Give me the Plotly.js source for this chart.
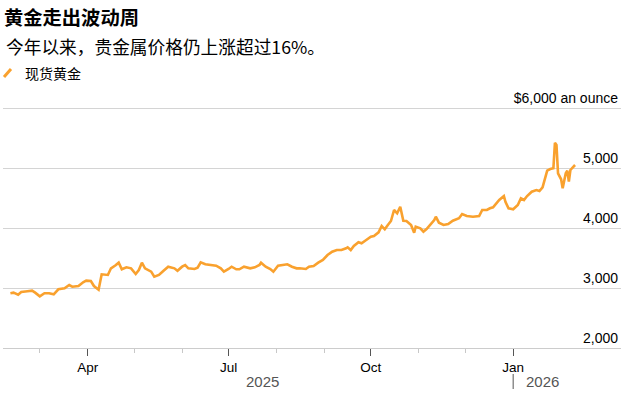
<!DOCTYPE html>
<html>
<head>
<meta charset="utf-8">
<script src="https://cdn.plot.ly/plotly-3.0.1.min.js"></script>
<style>
html,body{margin:0;padding:0;background:#fff;}
#chart{width:634px;height:398px;}
</style>
</head>
<body>
<div id="chart"></div>
<script>
var dates = [
"2025-02-10","2025-02-12","2025-02-15","2025-02-17","2025-02-21","2025-02-24","2025-02-26","2025-03-01",
"2025-03-04","2025-03-07","2025-03-10","2025-03-13","2025-03-17","2025-03-20","2025-03-22","2025-03-26","2025-03-29","2025-03-31",
"2025-04-03","2025-04-05","2025-04-08","2025-04-10","2025-04-14","2025-04-16","2025-04-19","2025-04-21","2025-04-23","2025-04-26","2025-04-29",
"2025-05-02","2025-05-04","2025-05-06","2025-05-08","2025-05-12","2025-05-14","2025-05-17","2025-05-20","2025-05-23","2025-05-27","2025-05-29",
"2025-06-01","2025-06-03","2025-06-05","2025-06-09","2025-06-11","2025-06-13","2025-06-16","2025-06-19","2025-06-23","2025-06-26","2025-06-28",
"2025-07-01","2025-07-03","2025-07-06","2025-07-08","2025-07-11","2025-07-15","2025-07-18","2025-07-21","2025-07-22","2025-07-25","2025-07-28","2025-07-30",
"2025-08-02","2025-08-06","2025-08-08","2025-08-11","2025-08-14","2025-08-16","2025-08-20","2025-08-22","2025-08-25","2025-08-28","2025-08-31",
"2025-09-03","2025-09-06","2025-09-09","2025-09-12","2025-09-15","2025-09-16","2025-09-18","2025-09-20","2025-09-23","2025-09-25","2025-09-28",
"2025-10-01","2025-10-03","2025-10-06","2025-10-08","2025-10-10","2025-10-12","2025-10-14","2025-10-16","2025-10-18","2025-10-20","2025-10-22","2025-10-24","2025-10-27","2025-10-29","2025-10-30",
"2025-11-02","2025-11-04","2025-11-06","2025-11-08","2025-11-11","2025-11-12","2025-11-14","2025-11-17","2025-11-20","2025-11-23","2025-11-27","2025-11-29",
"2025-12-02","2025-12-06","2025-12-10","2025-12-12","2025-12-15","2025-12-17","2025-12-19","2025-12-23","2025-12-26","2025-12-27","2025-12-29",
"2026-01-01","2026-01-04","2026-01-06","2026-01-08","2026-01-10","2026-01-13","2026-01-16","2026-01-18","2026-01-20","2026-01-23","2026-01-25","2026-01-27","2026-01-28","2026-01-29","2026-01-30",
"2026-02-01","2026-02-02","2026-02-04","2026-02-05","2026-02-06","2026-02-07","2026-02-09","2026-02-10"
];
var goldSpot = [
2912,2922,2888,2933,2945,2955,2922,2861,
2912,2912,2895,2978,2995,3050,3022,3033,3095,3122,
3117,3033,2972,3228,3217,3328,3378,3422,3312,3345,3328,
3233,3300,3422,3328,3272,3188,3217,3288,3355,3328,3288,
3355,3383,3328,3317,3338,3428,3395,3383,3372,3328,3272,
3317,3355,3312,3312,3355,3328,3345,3383,3422,3355,3317,3272,
3372,3383,3395,3355,3328,3330,3317,3355,3367,3422,3467,
3550,3605,3633,3633,3662,3678,3633,3700,3762,3745,3800,
3855,3867,3928,4033,3978,4050,4117,4300,4245,4355,4122,4117,4050,3922,4022,
3995,3938,3983,4050,4133,4188,4088,4050,4067,4122,4162,4233,
4200,4188,4200,4300,4300,4328,4345,4467,4533,4438,4328,
4312,4383,4495,4467,4533,4605,4633,4617,4678,4955,4983,4995,5420,5383,4912,
4812,4662,4912,4955,4772,4967,5022,5050
];
var yTickVals = [2000,3000,4000,5000,6000];
var yTickText = ["2,000","3,000","4,000","5,000","$6,000 an ounce"];
var titleText = "黄金走出波动周";
var subtitleText = "今年以来，贵金属价格仍上涨超过16%。";
var seriesName = "现货黄金";
var yearLabels = ["2025","2026"];

var ORANGE = "#f9a12e";
var FONT = "Liberation Sans, Arial, Noto Sans CJK SC, sans-serif";
var PH = 258; // plot height in px
function py(p){ return (348 - p) / PH; }

var trace = {
  x: dates, y: goldSpot, type: "scatter", mode: "lines", name: seriesName,
  line: {color: ORANGE, width: 2.6}, hoverinfo: "skip"
};

var layout = {
  width: 634, height: 398,
  margin: {l: 3, r: 13, t: 90, b: 50},
  paper_bgcolor: "#fff", plot_bgcolor: "#fff",
  showlegend: false,
  font: {family: FONT, color: "#000"},
  title: {
    text: "<b>" + titleText + "</b>",
    font: {family: "Noto Sans CJK SC, sans-serif", size: 19.3, color: "#000"},
    xref: "container", yref: "container",
    x: 4/634, xanchor: "left", y: 1 - 18/398, yanchor: "middle"
  },
  xaxis: {
    type: "date",
    range: ["2025-02-05 05:00", "2026-03-11 17:00"],
    showgrid: false, zeroline: false,
    showline: true, linecolor: "#cccccc", linewidth: 1,
    ticks: "outside", ticklen: 7, tickcolor: "#555", tickwidth: 1,
    dtick: "M3", tick0: "2025-01-01", tickformat: "%b",
    tickfont: {family: FONT, size: 13.5, color: "#000"},
    minor: {dtick: "M1", tick0: "2025-01-01", ticks: "outside", ticklen: 4, tickcolor: "#c8c8c8", tickwidth: 1, showgrid: false},
    fixedrange: true
  },
  yaxis: {
    range: [2000, 6300], side: "right",
    tickvals: yTickVals, ticktext: yTickText,
    ticklabelposition: "inside top",
    ticks: "",
    showgrid: true, gridcolor: "#d4d4d4", gridwidth: 1,
    zeroline: false, showline: false,
    tickfont: {family: FONT, size: 14, color: "#000"},
    fixedrange: true
  },
  annotations: [
    {text: subtitleText, xref: "paper", yref: "paper", x: 1/618, y: py(46),
     xanchor: "left", yanchor: "middle", showarrow: false,
     font: {family: "Noto Sans CJK SC, sans-serif", size: 17.7, color: "#000"}},
    {text: seriesName, xref: "paper", yref: "paper", x: 20/618, y: py(73),
     xanchor: "left", yanchor: "middle", showarrow: false,
     font: {family: "Noto Sans CJK SC, sans-serif", size: 14, color: "#000"}},
    {text: yearLabels[0], xref: "x", yref: "paper", x: "2025-07-23", y: py(381),
     xanchor: "center", yanchor: "middle", showarrow: false,
     font: {family: FONT, size: 15, color: "#555"}},
    {text: yearLabels[1], xref: "x", yref: "paper", x: "2026-01-08", y: py(381),
     xanchor: "left", yanchor: "middle", showarrow: false,
     font: {family: FONT, size: 15, color: "#555"}}
  ],
  shapes: [
    {type: "line", xref: "paper", yref: "paper", x0: 1/618, x1: 8/618, y0: py(77), y1: py(69),
     line: {color: ORANGE, width: 3}},
    {type: "line", xref: "x", yref: "paper", x0: "2026-01-01", x1: "2026-01-01", y0: py(374), y1: py(389),
     line: {color: "#555", width: 1}}
  ]
};

Plotly.newPlot("chart", [trace], layout, {displayModeBar: false, staticPlot: true});
</script>
</body>
</html>
